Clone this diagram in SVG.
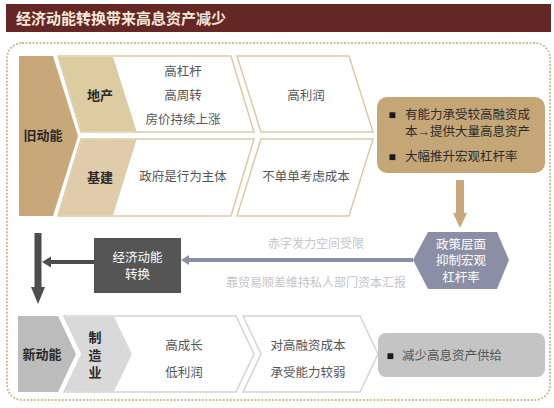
<svg xmlns="http://www.w3.org/2000/svg" width="554" height="408" viewBox="0 0 554 408">
<style>
text{font-family:"Liberation Sans","Noto Sans CJK SC",sans-serif;dominant-baseline:central;}
.t{font-size:12.5px;fill:#555555;text-anchor:middle;}
.b{font-size:13px;font-weight:bold;fill:#2a2a2a;text-anchor:middle;}
.w{font-size:12.5px;fill:#ffffff;text-anchor:middle;}
.d{font-size:12.5px;fill:#2b2b2b;}
.bul{font-size:12px;fill:#1a1a1a;text-anchor:middle;}
.l{font-size:12px;fill:#c3c4cc;text-anchor:middle;}
.tanline{fill:#ffffff;stroke:#dccaa4;stroke-width:1.5;}
.grayline{fill:#ffffff;stroke:#d4d4d4;stroke-width:1.5;}
</style>
<rect x="0" y="0" width="554" height="408" fill="#ffffff"/>
<g id="title">
<rect x="6" y="4" width="545" height="28" fill="#652626"/>
<text x="16" y="18" style="font-size:15px;font-weight:bold;fill:#f5e9d9;">经济动能转换带来高息资产减少</text>
</g>
<rect id="frame" x="7" y="43" width="543" height="357" rx="15" fill="none" stroke="#d6bd94" stroke-width="2" stroke-dasharray="2 1.5"/>

<g id="old-energy">
<polygon points="19,56 53,56 78,136 53,216 19,216" fill="#c8a878"/>
<text class="b" x="43" y="135">旧动能</text>
</g>
<g id="real-estate">
<polygon class="tanline" points="58,56 231,56 254,132 81,132"/>
<polygon points="58.8,56.8 113,56.8 136.5,131.2 81.6,131.2" fill="#ddcba1"/>
<text class="b" x="100" y="95">地产</text>
<text class="t" x="183" y="72">高杠杆</text>
<text class="t" x="183" y="96">高周转</text>
<text class="t" x="183" y="120">房价持续上涨</text>
</g>
<g id="infrastructure">
<polygon class="tanline" points="81,139 254,139 231,216 58,216"/>
<polygon points="81.6,139.8 136.5,139.8 113,215.2 58.8,215.2" fill="#e0cbab"/>
<text class="b" x="100" y="177">基建</text>
<text class="t" x="183" y="177">政府是行为主体</text>
</g>
<g id="high-profit">
<polygon class="tanline" points="237,56 349,56 373,132 261,132"/>
<text class="t" x="306" y="96">高利润</text>
</g>
<g id="not-cost">
<polygon class="tanline" points="261,139 373,139 349,216 237,216"/>
<text class="t" x="306" y="177">不单单考虑成本</text>
</g>
<g id="tan-box">
<rect x="377" y="97" width="168" height="76" rx="10" fill="#c5a676"/>
<text class="bul" x="392" y="115">■</text>
<text class="d" x="405" y="115">有能力承受较高融资成</text>
<text class="d" x="405" y="132">本→提供大量高息资产</text>
<text class="bul" x="392" y="157">■</text>
<text class="d" x="405" y="157">大幅推升宏观杠杆率</text>
</g>
<g id="policy">
<polygon points="413,260 428,232 497,232 509,260 497,289 428,289" fill="#8a8fa6"/>
<text class="w" x="461" y="244.5">政策层面</text>
<text class="w" x="461" y="261">抑制宏观</text>
<text class="w" x="461" y="277.5">杠杆率</text>
</g>
<g id="transition">
<rect x="94" y="238" width="87" height="55" fill="#555555"/>
<text class="w" x="137.5" y="258">经济动能</text>
<text class="w" x="137.5" y="275">转换</text>
</g>
<g id="new-energy">
<polygon points="18,316 58,316 76,354 58,392 18,392" fill="#bcbcbc"/>
<text class="b" x="42" y="354">新动能</text>
</g>
<g id="manufacturing">
<polygon class="grayline" points="64,316 236,316 254,354 236,392 64,392 82,354"/>
<polygon points="64.8,316.8 114,316.8 132,354 114,391.2 64.8,391.2 82.8,354" fill="#d9d9d9"/>
<text class="b" x="95" y="337.5">制</text>
<text class="b" x="95" y="355">造</text>
<text class="b" x="95" y="372.5">业</text>
<text class="t" x="184" y="346">高成长</text>
<text class="t" x="184" y="373">低利润</text>
</g>
<g id="weak">
<polygon class="grayline" points="243,316 360,316 378,354 360,392 243,392 261,354"/>
<text class="t" x="308" y="346">对高融资成本</text>
<text class="t" x="308" y="373">承受能力较弱</text>
</g>
<g id="gray-box">
<rect x="378" y="333" width="167" height="44" rx="8" fill="#c4c4c4"/>
<text class="bul" x="390" y="356">■</text>
<text x="402" y="356" style="font-size:12.5px;fill:#555555;">减少高息资产供给</text>
</g>
<g id="connectors">
<rect x="456" y="180" width="8" height="34" fill="#c8a878"/>
<polygon points="453,213 467,213 460,228" fill="#c8a878"/>
<line x1="413" y1="260" x2="188" y2="260" stroke="#8a8fa6" stroke-width="4"/>
<polygon points="181,260 189,255 189,265" fill="#8a8fa6"/>
<text class="l" x="316" y="244">赤字发力空间受限</text>
<text class="l" x="316" y="283">靠贸易顺差维持私人部门资本汇报</text>
<line x1="94" y1="262" x2="50" y2="262" stroke="#4d4d4d" stroke-width="4"/>
<polygon points="42,262 51,256.5 51,267.5" fill="#4d4d4d"/>
<rect x="34.5" y="233" width="7" height="55" fill="#4d4d4d"/>
<polygon points="31,287 45,287 38,304" fill="#4d4d4d"/>
</g>
</svg>
